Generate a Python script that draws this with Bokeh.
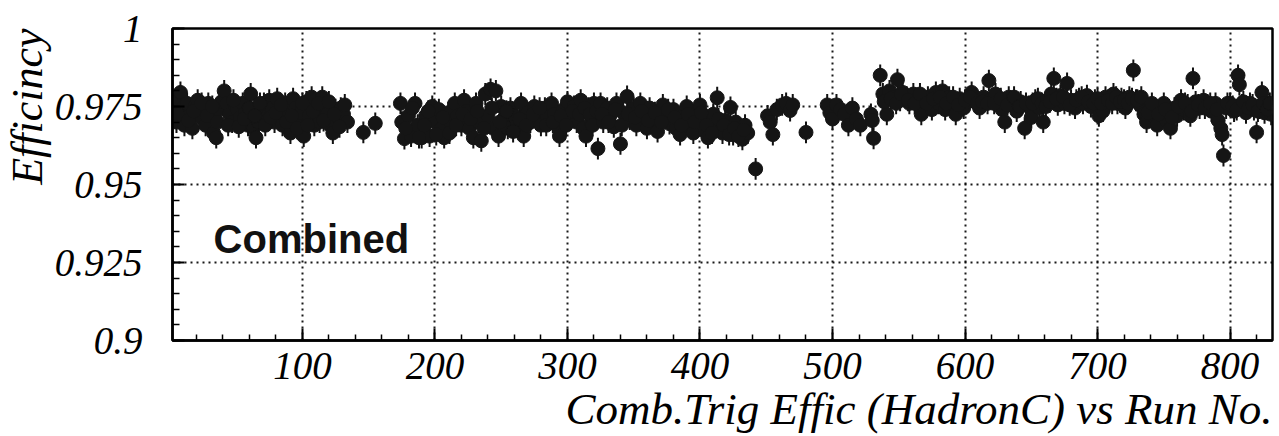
from bokeh.plotting import figure
from bokeh.models import Range1d, FixedTicker, CustomJSTickFormatter, Title, Label, ColumnDataSource
from bokeh.embed import file_html
from bokeh.resources import INLINE

# ---------------- data ----------------
runs_a = [3, 4, 5, 8, 10, 11, 13, 15, 17, 19,
          21, 23, 25, 27, 29, 31, 33, 35, 37, 39,
          41, 43, 45, 47, 49, 51, 53, 55, 57, 59,
          61, 63, 65, 67, 69, 71, 73, 75, 77, 79,
          81, 83, 85, 87, 89, 91, 93, 95, 97, 99,
          101, 103, 105, 107, 109, 111, 113, 115, 117, 119,
          121, 123, 125, 127, 129, 131, 134, 146, 155,
          6, 14, 18, 24, 28, 32, 36, 44, 48, 52,
          56, 60, 64, 68, 72, 76, 80, 84, 88, 92,
          96, 100, 104, 108, 112, 116, 120, 124, 128, 132]
eff_a = [0.9735, 0.9770, 0.9700, 0.9795, 0.9745, 0.9690, 0.9760, 0.9720, 0.9680, 0.9750,
         0.9770, 0.9715, 0.9745, 0.9690, 0.9760, 0.9735, 0.9665, 0.9650, 0.9740, 0.9765,
         0.9800, 0.9760, 0.9725, 0.9700, 0.9755, 0.9740, 0.9715, 0.9760, 0.9730, 0.9690,
         0.9790, 0.9680, 0.9650, 0.9700, 0.9735, 0.9760, 0.9715, 0.9770, 0.9745, 0.9700,
         0.9775, 0.9730, 0.9690, 0.9760, 0.9720, 0.9665, 0.9775, 0.9745, 0.9700, 0.9730,
         0.9655, 0.9765, 0.9720, 0.9780, 0.9690, 0.9740, 0.9700, 0.9780, 0.9755, 0.9725,
         0.9690, 0.9665, 0.9740, 0.9715, 0.9745, 0.9725, 0.9700, 0.9667, 0.9696,
         0.9725, 0.9705, 0.9735, 0.9760, 0.9720, 0.9750, 0.9700, 0.9690, 0.9770, 0.9685,
         0.9710, 0.9745, 0.9720, 0.9760, 0.9690, 0.9715, 0.9730, 0.9755, 0.9700, 0.9720,
         0.9680, 0.9760, 0.9690, 0.9735, 0.9760, 0.9705, 0.9765, 0.9725, 0.9685, 0.9755]

runs_b = [174, 175, 177, 180, 182, 185, 187, 190, 193, 196,
          198, 200, 203, 205, 207, 210, 212, 215, 217, 220,
          222, 224, 226, 229, 231, 233, 235, 238, 240, 242,
          244, 246, 248, 250, 252, 255, 257, 260, 262, 265,
          267, 270, 272, 275, 277, 280, 283, 285, 288, 290,
          292, 294, 297, 300, 302, 305, 307, 310, 312, 314,
          316, 318, 320,
          178, 183, 188, 192, 195, 201, 206, 211, 216, 221,
          227, 232, 237, 243, 249, 254, 259, 264, 269, 274,
          279, 284, 289, 295, 299, 304, 309, 313, 317, 319]
eff_b = [0.9760, 0.9700, 0.9647, 0.9720, 0.9655, 0.9760, 0.9690, 0.9650, 0.9720, 0.9655,
         0.9750, 0.9700, 0.9740, 0.9680, 0.9650, 0.9730, 0.9700, 0.9760, 0.9720, 0.9690,
         0.9770, 0.9735, 0.9680, 0.9650, 0.9760, 0.9700, 0.9640, 0.9790, 0.9720, 0.9805,
         0.9680, 0.9800, 0.9655, 0.9750, 0.9710, 0.9680, 0.9745, 0.9720, 0.9690, 0.9760,
         0.9655, 0.9730, 0.9700, 0.9750, 0.9720, 0.9690, 0.9745, 0.9715, 0.9760, 0.9725,
         0.9690, 0.9655, 0.9740, 0.9765, 0.9720, 0.9750, 0.9700, 0.9770, 0.9680, 0.9655,
         0.9745, 0.9700, 0.9760,
         0.9680, 0.9745, 0.9650, 0.9690, 0.9735, 0.9660, 0.9715, 0.9665, 0.9690, 0.9725,
         0.9710, 0.9735, 0.9680, 0.9745, 0.9700, 0.9735, 0.9670, 0.9710, 0.9690, 0.9725,
         0.9745, 0.9690, 0.9700, 0.9720, 0.9690, 0.9735, 0.9725, 0.9745, 0.9725, 0.9690]

runs_c = [322, 323, 325, 327, 330, 332, 335, 337, 340, 342,
          345, 347, 350, 352, 355, 357, 360, 362, 365, 368,
          370, 372, 375, 377, 380, 382, 385, 387, 390, 392,
          395, 397, 400, 402, 404, 406, 408, 410, 413, 415,
          417, 419, 421, 423, 425, 427, 430, 432, 434, 436,
          442, 451, 453, 455, 458, 462, 465, 468, 470, 480,
          496, 498, 500, 503, 506, 509, 512, 515, 518, 521,
          529, 530, 531,
          326, 331, 336, 341, 346, 351, 356, 361, 366, 371,
          376, 381, 386, 391, 396, 401, 405, 409, 414, 418,
          422, 426, 429, 433]
eff_c = [0.9735, 0.9615, 0.9760, 0.9700, 0.9745, 0.9720, 0.9685, 0.9760, 0.9630, 0.9730,
         0.9782, 0.9710, 0.9745, 0.9690, 0.9760, 0.9720, 0.9680, 0.9745, 0.9705, 0.9670,
         0.9735, 0.9755, 0.9720, 0.9695, 0.9740, 0.9680, 0.9660, 0.9720, 0.9750, 0.9685,
         0.9665, 0.9730, 0.9755, 0.9700, 0.9670, 0.9650, 0.9695, 0.9725, 0.9778, 0.9690,
         0.9665, 0.9705, 0.9680, 0.9747, 0.9660, 0.9700, 0.9675, 0.9645, 0.9690, 0.9665,
         0.9550, 0.9720, 0.9700, 0.9660, 0.9740, 0.9755, 0.9760, 0.9737, 0.9755, 0.9667,
         0.9755, 0.9730, 0.9710, 0.9755, 0.9740, 0.9725, 0.9690, 0.9745, 0.9710, 0.9690,
         0.9725, 0.9705, 0.9648,
         0.9725, 0.9700, 0.9740, 0.9690, 0.9725, 0.9715, 0.9735, 0.9705, 0.9730, 0.9700,
         0.9740, 0.9715, 0.9690, 0.9725, 0.9700, 0.9730, 0.9690, 0.9665, 0.9710, 0.9690,
         0.9660, 0.9680, 0.9655, 0.9675]

runs_d = [536, 538, 540, 541, 543, 546, 549, 551, 553, 556,
          558, 561, 564, 567, 569, 572, 575, 578, 580, 583,
          585, 588, 590, 593, 596, 599, 602, 605, 608, 611,
          614, 618, 620, 623, 625, 628, 630, 633, 636, 639,
          642, 645, 648, 650, 653, 656, 659,
          539, 544, 548, 552, 557, 562, 566, 571, 576, 581,
          586, 591, 595, 600, 604, 609, 613, 617, 622, 627,
          632, 637, 641, 646, 651, 655, 658]
eff_d = [0.9850, 0.9790, 0.9770, 0.9725, 0.9800, 0.9780, 0.9836, 0.9770, 0.9795, 0.9780,
         0.9760, 0.9790, 0.9775, 0.9725, 0.9765, 0.9780, 0.9740, 0.9795, 0.9760, 0.9800,
         0.9740, 0.9780, 0.9755, 0.9725, 0.9775, 0.9745, 0.9765, 0.9795, 0.9770, 0.9745,
         0.9780, 0.9833, 0.9775, 0.9790, 0.9760, 0.9740, 0.9700, 0.9780, 0.9760, 0.9735,
         0.9765, 0.9680, 0.9750, 0.9715, 0.9770, 0.9745, 0.9700,
         0.9765, 0.9775, 0.9760, 0.9790, 0.9770, 0.9760, 0.9790, 0.9760, 0.9775, 0.9780,
         0.9760, 0.9780, 0.9755, 0.9770, 0.9780, 0.9760, 0.9765, 0.9760, 0.9760, 0.9775,
         0.9755, 0.9780, 0.9750, 0.9760, 0.9760, 0.9775, 0.9760]

runs_e = [662, 665, 667, 670, 672, 675, 677, 680, 683, 686,
          689, 692, 695, 698, 701, 704, 706, 709, 712, 715,
          718, 721, 724, 727, 729, 732, 735, 737, 740, 742,
          745, 748, 750, 752, 755, 758, 760, 763, 765, 768,
          770, 772, 774, 777, 780, 783, 786, 789, 791, 793,
          794, 795, 797, 800, 803, 806, 807, 809, 812, 815,
          818, 820, 822, 824, 826, 829, 831,
          661, 664, 669, 674, 679, 684, 688, 693, 697, 700,
          703, 708, 711, 714, 717, 720, 723, 726, 730, 733,
          738, 741, 746, 751, 756, 761, 766, 771, 776, 781,
          785, 790, 798, 802, 805, 810, 814, 817, 821, 825,
          828, 830]
eff_e = [0.9770, 0.9790, 0.9840, 0.9755, 0.9785, 0.9760, 0.9824, 0.9770, 0.9745, 0.9775,
         0.9760, 0.9785, 0.9750, 0.9770, 0.9720, 0.9735, 0.9780, 0.9765, 0.9790, 0.9760,
         0.9775, 0.9745, 0.9780, 0.9866, 0.9770, 0.9755, 0.9725, 0.9700, 0.9745, 0.9720,
         0.9690, 0.9730, 0.9760, 0.9705, 0.9680, 0.9745, 0.9720, 0.9770, 0.9740, 0.9755,
         0.9720, 0.9840, 0.9765, 0.9745, 0.9770, 0.9755, 0.9735, 0.9760, 0.9705, 0.9680,
         0.9660, 0.9593, 0.9745, 0.9760, 0.9735, 0.9850, 0.9820, 0.9755, 0.9730, 0.9760,
         0.9740, 0.9667, 0.9745, 0.9795, 0.9730, 0.9750, 0.9725,
         0.9750, 0.9765, 0.9775, 0.9780, 0.9755, 0.9770, 0.9780, 0.9765, 0.9760, 0.9775,
         0.9760, 0.9770, 0.9760, 0.9780, 0.9765, 0.9770, 0.9760, 0.9775, 0.9770, 0.9780,
         0.9730, 0.9760, 0.9725, 0.9740, 0.9715, 0.9750, 0.9760, 0.9735, 0.9755, 0.9745,
         0.9760, 0.9740, 0.9760, 0.9750, 0.9740, 0.9765, 0.9745, 0.9755, 0.9735, 0.9760,
         0.9740, 0.9760]

eff_error = 0.0035

x_ticks = [100, 200, 300, 400, 500, 600, 700, 800]
y_ticks = [0.9, 0.925, 0.95, 0.975, 1.0]

x_title = "Comb.Trig Effic (HadronC) vs Run No."
y_title = "Efficincy"
note_text = "Combined"

# ---------------- build ----------------
run_no = runs_a + runs_b + runs_c + runs_d + runs_e
efficiency = eff_a + eff_b + eff_c + eff_d + eff_e
n = min(len(run_no), len(efficiency))
run_no = run_no[:n]
efficiency = efficiency[:n]

src = ColumnDataSource(dict(
    run=run_no,
    eff=efficiency,
    lo=[e - eff_error for e in efficiency],
    hi=[e + eff_error for e in efficiency],
))

p = figure(width=1279, height=436, output_backend="svg", toolbar_location=None,
           x_range=Range1d(2, 832), y_range=Range1d(0.9, 1.0),
           min_border_left=172, min_border_right=7, min_border_top=28, min_border_bottom=96,
           title=None)
p.background_fill_color = "white"
p.border_fill_color = "white"
p.outline_line_color = "black"
p.outline_line_width = 2.5
p.outline_line_alpha = 1.0

FONT = "Liberation Serif"

xax = p.xaxis[0]
xax.ticker = FixedTicker(ticks=x_ticks, minor_ticks=[v for v in range(20, 832, 20)])
yax = p.yaxis[0]
yax.ticker = FixedTicker(ticks=y_ticks, minor_ticks=[round(0.9 + 0.005 * i, 3) for i in range(21)])
yax.formatter = CustomJSTickFormatter(code="return tick.toFixed(3).replace(/0+$/,'').replace(/\\.$/,'');")

for ax, mj, mn in ((xax, 12, 6), (yax, 12, 7)):
    ax.axis_line_color = "black"
    ax.axis_line_width = 2.5
    ax.major_tick_in = mj
    ax.major_tick_out = 0
    ax.minor_tick_in = mn
    ax.minor_tick_out = 0
    ax.major_tick_line_color = "black"
    ax.major_tick_line_width = 2
    ax.minor_tick_line_color = "black"
    ax.minor_tick_line_width = 1.5
    ax.major_label_text_font = FONT
    ax.major_label_text_font_style = "italic"
    ax.major_label_text_font_size = "39px"
    ax.major_label_text_color = "black"
xax.major_label_standoff = 12
yax.major_label_standoff = 30

for g in (p.xgrid[0], p.ygrid[0]):
    g.grid_line_color = "black"
    g.grid_line_dash = "2 4"
    g.grid_line_width = 2
    g.grid_line_alpha = 0.9

p.segment(x0="run", y0="lo", x1="run", y1="hi", source=src, line_color="#111111", line_width=2)
p.scatter(x="run", y="eff", source=src, size=14, fill_color="#151515", line_color="#151515")

p.add_layout(Title(text=x_title, align="right", text_font=FONT, text_font_style="italic",
                   text_font_size="45px", text_color="black", standoff=0), "below")
p.add_layout(Title(text=y_title, align="right", text_font=FONT, text_font_style="italic",
                   text_font_size="44px", text_color="black", standoff=0), "left")

p.add_layout(Label(x=33, y=0.9255, text=note_text, text_font="Liberation Sans",
                   text_font_style="bold", text_font_size="40px", text_color="#111111"))

open("out.html", "w", encoding="utf-8").write(file_html(p, INLINE))
